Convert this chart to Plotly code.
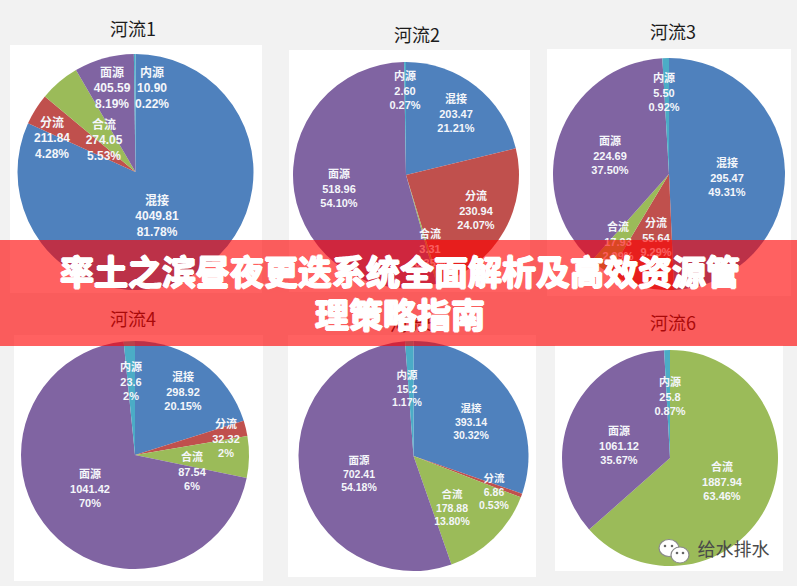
import plotly.graph_objects as go

# ---------- data ----------
CATEGORIES = ["混接", "分流", "合流", "面源", "内源"]
RIVERS = ["河流1", "河流2", "河流3", "河流4", "河流5", "河流6"]

VALUES_1 = [4049.81, 211.84, 274.05, 405.59, 10.90]
VALUES_2 = [203.47, 230.94, 3.31, 518.96, 2.60]
VALUES_3 = [295.47, 55.64, 17.93, 224.69, 5.50]
VALUES_4 = [298.92, 32.32, 87.54, 1041.42, 23.6]
VALUES_5 = [393.14, 6.86, 178.88, 702.41, 15.2]
VALUES_6 = [0, 0, 1887.94, 1061.12, 25.8]

VALUE_TEXT_1 = ["4049.81", "211.84", "274.05", "405.59", "10.90"]
VALUE_TEXT_2 = ["203.47", "230.94", "3.31", "518.96", "2.60"]
VALUE_TEXT_3 = ["295.47", "55.64", "17.93", "224.69", "5.50"]
VALUE_TEXT_4 = ["298.92", "32.32", "87.54", "1041.42", "23.6"]
VALUE_TEXT_5 = ["393.14", "6.86", "178.88", "702.41", "15.2"]
VALUE_TEXT_6 = [None, None, "1887.94", "1061.12", "25.8"]

PERCENT_1 = ["81.78%", "4.28%", "5.53%", "8.19%", "0.22%"]
PERCENT_2 = ["21.21%", "24.07%", "0.35%", "54.10%", "0.27%"]
PERCENT_3 = ["49.31%", "9.29%", "2.99%", "37.50%", "0.92%"]
PERCENT_4 = ["20.15%", "2%", "6%", "70%", "2%"]
PERCENT_5 = ["30.32%", "0.53%", "13.80%", "54.18%", "1.17%"]
PERCENT_6 = [None, None, "63.46%", "35.67%", "0.87%"]

BANNER_LINES = ["率土之滨昼夜更迭系统全面解析及高效资源管", "理策略指南"]
WATERMARK = "给水排水"

# ---------- layout (pixels) ----------
W, H = 797, 586
COLORS = ["#4F81BD", "#C0504D", "#9BBB59", "#8064A2", "#4BACC6"]
CENTERS = [(135.5, 172, 118), (406, 175, 113), (669, 174, 116),
           (135, 455, 114), (413.5, 456, 115), (670, 458, 108)]
PANELS = [(10, 45, 262, 293), (289, 50, 530, 292), (547, 49, 791, 296),
          (14, 335, 263, 581), (288, 335, 536, 577), (555, 345, 783, 571)]
TITLE_POS = [(133, 31), (417, 37), (673, 34), (133, 321), (413, 326), (673, 325)]
LABEL_SIZE = [12, 11, 11, 11, 10.5, 11]
LABEL_POS = [
    [(157, 216), (52, 138), (104, 140), (112, 88), (152, 88)],
    [(456, 113), (476, 210), (430, 248), (339, 188), (405, 90)],
    [(727, 177), (656, 237), (618, 241), (610, 155), (664, 92)],
    [(183, 391), (226, 438), (192, 471), (90, 488), (131, 381)],
    [(471, 421), (494, 491), (452, 507), (359, 473), (407, 388)],
    [None, None, (722, 481), (619, 445), (670, 396)],
]

ALL_VALUES = [VALUES_1, VALUES_2, VALUES_3, VALUES_4, VALUES_5, VALUES_6]
ALL_VTEXT = [VALUE_TEXT_1, VALUE_TEXT_2, VALUE_TEXT_3, VALUE_TEXT_4, VALUE_TEXT_5, VALUE_TEXT_6]
ALL_PCT = [PERCENT_1, PERCENT_2, PERCENT_3, PERCENT_4, PERCENT_5, PERCENT_6]


def px(x):
    return x / W


def py(y):
    return 1 - y / H


def text_shape(x, y, text, size, color, family, hw=60, hh=30):
    return dict(
        type="rect", xref="paper", yref="paper", layer="above",
        x0=px(x - hw), x1=px(x + hw), y0=py(y + hh), y1=py(y - hh),
        line=dict(width=0), fillcolor="rgba(0,0,0,0)",
        label=dict(text=text, textposition="middle center",
                   font=dict(size=size, color=color, family=family)),
    )


fig = go.Figure()
shapes = []

for (x0, y0, x1, y1) in PANELS:
    shapes.append(dict(type="rect", xref="paper", yref="paper", layer="below",
                       x0=px(x0), x1=px(x1), y0=py(y1), y1=py(y0),
                       fillcolor="#FFFFFF", line=dict(width=0)))

for i, name in enumerate(RIVERS):
    cx, cy, r = CENTERS[i]
    fig.add_trace(go.Pie(
        labels=CATEGORIES, values=ALL_VALUES[i], name=name, sort=False,
        direction="clockwise", rotation=0, textinfo="none", hoverinfo="skip",
        showlegend=False,
        marker=dict(colors=COLORS, line=dict(width=0)),
        domain=dict(x=[px(cx - r), px(cx + r)], y=[py(cy + r), py(cy - r)]),
    ))
    tx, ty = TITLE_POS[i]
    shapes.append(text_shape(tx, ty, name, 18, "#1c1c1c", "Noto Sans CJK SC"))
    for j, cat in enumerate(CATEGORIES):
        if LABEL_POS[i][j] is None:
            continue
        lx, ly = LABEL_POS[i][j]
        txt = f"<b>{cat}<br>{ALL_VTEXT[i][j]}<br>{ALL_PCT[i][j]}</b>"
        shapes.append(text_shape(lx, ly, txt, LABEL_SIZE[i], "#F4F6FA",
                                 "Liberation Sans, Noto Sans CJK SC"))

# WeChat-style watermark icon
for (bx, by, rx, ry) in [(669, 548, 10, 8.5), (680, 555, 9, 8)]:
    shapes.append(dict(type="circle", xref="paper", yref="paper", layer="above",
                       x0=px(bx - rx), x1=px(bx + rx), y0=py(by + ry), y1=py(by - ry),
                       fillcolor="#FFFFFF", line=dict(color="#8a8a8a", width=1.2)))
for (bx, by) in [(665, 546), (672, 546), (677, 553), (683, 553)]:
    shapes.append(dict(type="circle", xref="paper", yref="paper", layer="above",
                       x0=px(bx - 1.3), x1=px(bx + 1.3), y0=py(by + 1.3), y1=py(by - 1.3),
                       fillcolor="#666666", line=dict(width=0)))
shapes.append(text_shape(733.5, 551, WATERMARK, 18, "#4a4a4a", "Noto Sans CJK SC"))

# Banner
shapes.append(dict(type="rect", xref="paper", yref="paper", layer="above",
                   x0=0, x1=1, y0=py(346), y1=py(240),
                   fillcolor="rgba(255,0,0,0.62)", line=dict(width=0)))

annotations = []
for line, y in zip(BANNER_LINES, [270, 313]):
    annotations.append(dict(
        text=f"<b>{line}</b>", xref="paper", yref="paper", x=px(400), y=py(y),
        xanchor="center", yanchor="middle", showarrow=False,
        font=dict(size=34, color="#FFFFFF", family="Noto Sans CJK SC", weight=700,
                  shadow="1px 0 0 #fff, -1px 0 0 #fff, 0 1px 0 #fff, 0 -1px 0 #fff"),
    ))

fig.update_layout(
    width=W, height=H, margin=dict(l=0, r=0, t=0, b=0, autoexpand=False),
    paper_bgcolor="#F2F2F2", plot_bgcolor="#F2F2F2", showlegend=False,
    shapes=shapes, annotations=annotations,
)

fig.write_html(
    "out.html", config={"displayModeBar": False},
    post_script="document.body.style.margin='0';document.documentElement.style.overflow='hidden';",
)
